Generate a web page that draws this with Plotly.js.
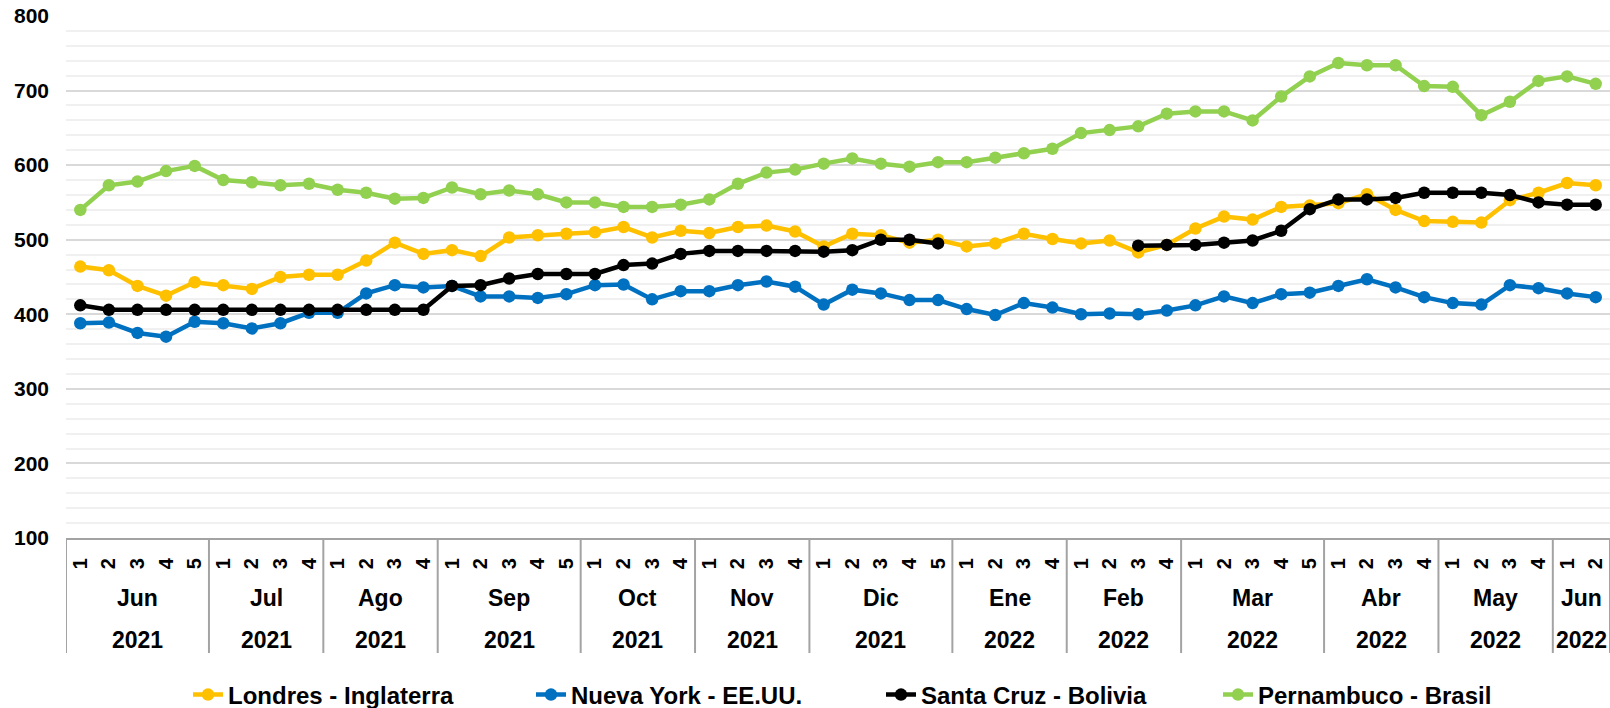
<!DOCTYPE html>
<html>
<head>
<meta charset="utf-8">
<script src="https://cdn.plot.ly/plotly-3.0.1.min.js"></script>
<style>
  html, body { margin: 0; padding: 0; background: #ffffff; }
  #chart { width: 1610px; height: 708px; }
</style>
</head>
<body>
<div id="chart"></div>
<script>
// ---- Data ----
const weeks = ['1','2','3','4','5', '1','2','3','4', '1','2','3','4', '1','2','3','4','5',
               '1','2','3','4', '1','2','3','4', '1','2','3','4','5', '1','2','3','4',
               '1','2','3','4', '1','2','3','4','5', '1','2','3','4', '1','2','3','4', '1','2'];
const months = ['Jun','Jul','Ago','Sep','Oct','Nov','Dic','Ene','Feb','Mar','Abr','May','Jun'];
const years = ['2021','2021','2021','2021','2021','2021','2021','2022','2022','2022','2022','2022','2022'];
const weeksPerMonth = [5,4,4,5,4,4,5,4,4,5,4,4,2];

const londres = [464, 459, 438, 425, 443, 439, 434, 450, 453, 453,
                 472, 496, 481, 486, 478, 503, 506, 508, 510, 517,
                 503, 512, 509, 517, 519, 511, 491, 508, 506, 496,
                 500, 491, 495, 508, 501, 495, 499, 483, 493, 515,
                 531, 527, 544, 546, 549, 561, 540, 525, 524, 523,
                 553, 563, 576, 573];
const nuevaYork = [388, 389, 375, 370, 390, 388, 381, 388, 402, 402,
                   428, 439, 436, 438, 424, 424, 422, 427, 439, 440,
                   420, 431, 431, 439, 444, 437, 413, 433, 428, 419,
                   419, 407, 399, 415, 409, 400, 401, 400, 405, 412,
                   424, 415, 427, 429, 438, 447, 436, 423, 415, 413,
                   439, 435, 428, 423];
const santaCruz = [412, 406, 406, 406, 406, 406, 406, 406, 406, 406,
                   406, 406, 406, 438, 439, 448, 454, 454, 454, 466,
                   468, 481, 485, 485, 485, 485, 484, 486, 500, 500,
                   495, null, null, null, null, null, null, 492, 493, 493,
                   496, 499, 512, 541, 554, 554, 556, 563, 563, 563,
                   560, 550, 547, 547];
const pernambuco = [540, 573, 578, 592, 599, 580, 577, 573, 575, 567,
                    563, 555, 556, 570, 561, 566, 561, 550, 550, 544,
                    544, 547, 554, 575, 590, 594, 602, 609, 602, 598,
                    604, 604, 610, 616, 622, 643, 647, 652, 669, 672,
                    672, 660, 692, 719, 737, 734, 734, 706, 705, 667,
                    685, 713, 719, 709];

const seriesNames = ['Londres - Inglaterra', 'Nueva York - EE.UU.', 'Santa Cruz - Bolivia', 'Pernambuco - Brasil'];
const seriesData = [londres, nuevaYork, santaCruz, pernambuco];
const seriesColors = ['#FFC000', '#0070C0', '#000000', '#92D050'];
const legendIds = ['legend', 'legend2', 'legend3', 'legend4'];

// ---- Build ----
const FONT = 'Liberation Sans, Arial, Helvetica, sans-serif';
const W = 1610, H = 708;
const M = {l: 66, r: 0, t: 16, b: 170, autoexpand: false};
const plotW = W - M.l - M.r, plotH = H - M.t - M.b;
const idx = weeks.map((_, i) => i);

const traces = seriesData.map((ys, k) => ({
  type: 'scatter', mode: 'lines+markers',
  x: idx, y: ys, name: seriesNames[k],
  legend: legendIds[k],
  connectgaps: false,
  line: {color: seriesColors[k], width: 4.5},
  marker: {color: seriesColors[k], size: 12.5},
  hoverinfo: 'x+y+name'
}));

// group boundaries & labels
const shapes = [];
const annotations = [];
let start = 0;
const sepDepth = 115; // px below axis
const boundaries = [start - 0.5];
for (let g = 0; g < months.length; g++) {
  const n = weeksPerMonth[g];
  const center = start + (n - 1) / 2;
  annotations.push({
    xref: 'x', yref: 'paper', x: center, y: 0, yanchor: 'middle', xanchor: 'center',
    yshift: -60, text: months[g], showarrow: false,
    font: {family: FONT, size: 23, color: '#000', weight: 'bold'}
  });
  annotations.push({
    xref: 'x', yref: 'paper', x: center, y: 0, yanchor: 'middle', xanchor: 'center',
    yshift: -102, text: years[g], showarrow: false,
    font: {family: FONT, size: 23, color: '#000', weight: 'bold'}
  });
  start += n;
  boundaries.push(start - 0.5);
}
boundaries.forEach(b => {
  shapes.push({
    type: 'line', xref: 'x', yref: 'paper', x0: b, x1: b, y0: 0, y1: -sepDepth / plotH,
    line: {color: '#a3a3a3', width: 2}
  });
});

// legend positions (text start px)
const legendTextPx = [228, 571, 921, 1258];
const legendCenterY = 695;
const legendY = (H - M.b - legendCenterY) / plotH;
const layout = {
  width: W, height: H,
  margin: M,
  paper_bgcolor: '#ffffff', plot_bgcolor: '#ffffff',
  font: {family: FONT, color: '#000'},
  showlegend: true,
  xaxis: {
    range: [-0.5, weeks.length - 0.5],
    tickmode: 'array', tickvals: idx, ticktext: weeks,
    tickangle: -90,
    tickfont: {family: FONT, size: 20, color: '#000', weight: 'bold'},
    ticklabelstandoff: 10,
    showgrid: false, zeroline: false,
    showline: true, linecolor: '#a3a3a3', linewidth: 2,
    ticks: '', fixedrange: true, automargin: false
  },
  yaxis: {
    range: [100, 800], dtick: 100, tick0: 100,
    showgrid: true, gridcolor: '#d9d9d9', gridwidth: 2,
    minor: {dtick: 20, showgrid: true, gridcolor: '#f0f0f0', gridwidth: 2},
    zeroline: false, showline: false, ticks: '',
    tickfont: {family: FONT, size: 21, color: '#000', weight: 'bold'},
    ticklabelstandoff: 16, fixedrange: true, automargin: false
  },
  shapes: shapes,
  annotations: annotations
};
legendIds.forEach((id, k) => {
  layout[id] = {
    x: (legendTextPx[k] - 40 - M.l) / plotW, xanchor: 'left',
    y: legendY, yanchor: 'middle',
    orientation: 'h', bgcolor: 'rgba(0,0,0,0)', borderwidth: 0,
    font: {family: FONT, size: 24, color: '#000', weight: 'bold'}
  };
});

Plotly.newPlot('chart', traces, layout, {displayModeBar: false, staticPlot: true});
</script>
</body>
</html>
